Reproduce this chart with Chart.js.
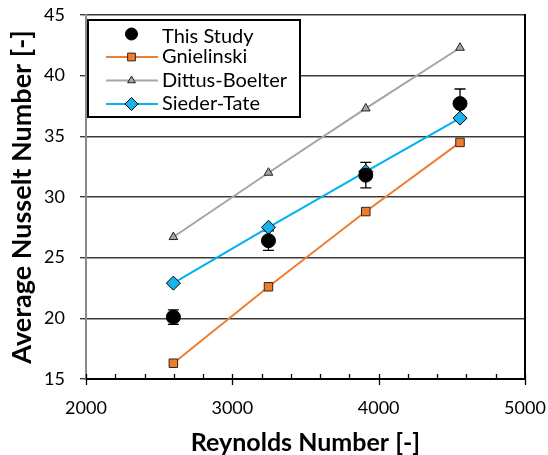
<!DOCTYPE html>
<html>
<head>
<meta charset="utf-8">
<script src="https://cdn.jsdelivr.net/npm/chart.js@4/dist/chart.umd.min.js"></script>
<style>
  html, body { margin: 0; padding: 0; background: #fff; }
  canvas { display: block; }
</style>
</head>
<body>
<canvas id="nusselt" width="548" height="455"></canvas>
<script>
// Reynolds numbers of the four test conditions
const reynolds = [2597, 3247, 3912, 4556];

// Measured average Nusselt number and its uncertainty
const thisStudy = [20.1, 26.4, 31.8, 37.7];
const thisStudyErr = [0.6, 0.8, 1.05, 1.2];

// Correlation predictions
const gnielinski = [16.3, 22.6, 28.8, 34.5];
const dittusBoelter = [26.7, 32.0, 37.3, 42.3];
const siederTate = [22.9, 27.5, 32.1, 36.5];

const seriesNames = ['This Study', 'Gnielinski', 'Dittus-Boelter', 'Sieder-Tate'];

// Axis ranges and tick spacing
const xRange = [2000, 5000];
const xMajorStep = 1000;
const xMinorStep = 200;
const yRange = [15, 45];
const yMajorStep = 5;

const FONT = 'Lato, "Open Sans", sans-serif';

const toPoints = vals => reynolds.map((x, i) => ({ x, y: vals[i] }));

// Keep the plot area fixed: no extra room for overhanging tick labels
function fixScale(scale, size) {
  if (scale.isHorizontal()) scale.height = size; else scale.width = size;
  scale.paddingTop = scale.paddingBottom = scale.paddingLeft = scale.paddingRight = 0;
}

// Vertical error bars for the measured series (drawn beneath all markers)
const errorBars = {
  id: 'errorBars',
  beforeDatasetsDraw(chart) {
    const { ctx, scales: { x, y } } = chart;
    ctx.save();
    ctx.strokeStyle = '#000';
    ctx.lineWidth = 1.3;
    reynolds.forEach((re, i) => {
      const px = x.getPixelForValue(re);
      const top = y.getPixelForValue(thisStudy[i] + thisStudyErr[i]);
      const bot = y.getPixelForValue(thisStudy[i] - thisStudyErr[i]);
      ctx.beginPath();
      ctx.moveTo(px, top); ctx.lineTo(px, bot);
      ctx.moveTo(px - 5.5, top); ctx.lineTo(px + 5.5, top);
      ctx.moveTo(px - 5.5, bot); ctx.lineTo(px + 5.5, bot);
      ctx.stroke();
    });
    ctx.restore();
  }
};

// Plot frame: right edge and x-axis major/minor tick marks
const frame = {
  id: 'frame',
  beforeDatasetsDraw(chart) {
    const { ctx, chartArea: a, scales: { x } } = chart;
    ctx.save();
    ctx.strokeStyle = '#000';
    ctx.lineWidth = 2;
    ctx.beginPath();
    ctx.moveTo(a.right, a.top - 1);
    ctx.lineTo(a.right, a.bottom + 1);
    ctx.stroke();
    ctx.lineWidth = 1.3;
    ctx.beginPath();
    for (let v = xRange[0]; v <= xRange[1]; v += xMinorStep) {
      const px = Math.round(x.getPixelForValue(v)) + 0.5;
      if (v % xMajorStep === 0) {
        ctx.moveTo(px, a.bottom - 5); ctx.lineTo(px, a.bottom + 6);
      } else {
        ctx.moveTo(px, a.bottom - 5); ctx.lineTo(px, a.bottom);
      }
    }
    ctx.stroke();
    ctx.restore();
  }
};

// Boxed legend inside the plot area
const legendLayout = { left: 88, top: 20, right: 300, bottom: 117, lineX0: 106, lineX1: 158, markX: 131.5, textX: 162 };
const legendRowY = [34, 57, 80.5, 104];
const boxedLegend = {
  id: 'boxedLegend',
  afterDraw(chart) {
    const { ctx } = chart;
    const L = legendLayout;
    ctx.save();
    ctx.fillStyle = '#fff';
    ctx.fillRect(L.left, L.top, L.right - L.left, L.bottom - L.top);
    ctx.strokeStyle = '#000';
    ctx.lineWidth = 2;
    ctx.strokeRect(L.left, L.top, L.right - L.left, L.bottom - L.top);
    chart.data.datasets.forEach((ds, i) => {
      const yRow = legendRowY[i];
      if (ds.showLine !== false) {
        ctx.strokeStyle = ds.borderColor;
        ctx.lineWidth = ds.borderWidth;
        ctx.beginPath();
        ctx.moveTo(L.lineX0, yRow); ctx.lineTo(L.lineX1, yRow);
        ctx.stroke();
      }
      ctx.fillStyle = ds.pointBackgroundColor;
      ctx.strokeStyle = ds.pointBorderColor;
      ctx.lineWidth = ds.pointBorderWidth;
      Chart.helpers.drawPoint(ctx, {
        pointStyle: ds.pointStyle, radius: ds.legendRadius, rotation: 0, borderWidth: ds.pointBorderWidth
      }, L.markX, yRow);
      ctx.fillStyle = '#000';
      ctx.font = '20px ' + FONT;
      ctx.textBaseline = 'middle';
      ctx.textAlign = 'left';
      ctx.fillText(ds.label, L.textX, i === 0 ? yRow + 3 : yRow);
    });
    ctx.restore();
  }
};

function draw() {
  new Chart(document.getElementById('nusselt'), {
    type: 'scatter',
    data: {
      datasets: [
        {
          label: seriesNames[0], data: toPoints(thisStudy), showLine: false,
          pointStyle: 'circle', pointRadius: 7, legendRadius: 6,
          pointBackgroundColor: '#000', pointBorderColor: '#000', pointBorderWidth: 1
        },
        {
          label: seriesNames[1], data: toPoints(gnielinski), showLine: true,
          borderColor: '#ED7D31', borderWidth: 2,
          pointStyle: 'rect', pointRadius: 6, legendRadius: 5.5,
          pointBackgroundColor: '#ED7D31', pointBorderColor: '#3a2210', pointBorderWidth: 1
        },
        {
          label: seriesNames[2], data: toPoints(dittusBoelter), showLine: true,
          borderColor: '#A5A5A5', borderWidth: 2,
          pointStyle: 'triangle', pointRadius: 5, legendRadius: 4.5,
          pointBackgroundColor: '#A5A5A5', pointBorderColor: '#222', pointBorderWidth: 1
        },
        {
          label: seriesNames[3], data: toPoints(siederTate), showLine: true,
          borderColor: '#00B0F0', borderWidth: 2,
          pointStyle: 'rectRot', pointRadius: 7, legendRadius: 6.5,
          pointBackgroundColor: '#1AB2EA', pointBorderColor: '#000', pointBorderWidth: 1
        }
      ]
    },
    options: {
      responsive: false,
      animation: false,
      layout: { padding: { left: 0, top: 15, right: 23, bottom: 0 } },
      plugins: { legend: { display: false }, tooltip: { enabled: false } },
      elements: { line: { tension: 0 } },
      scales: {
        x: {
          type: 'linear', min: xRange[0], max: xRange[1],
          afterFit: s => fixScale(s, 76),
          ticks: {
            stepSize: xMajorStep, color: '#000', font: { family: FONT, size: 18 }, padding: 18, maxRotation: 0,
            callback: v => String(v)
          },
          grid: { display: false, drawTicks: false },
          border: { display: true, color: '#000', width: 2 },
          title: {
            display: true, text: 'Reynolds Number [-]', color: '#000',
            font: { family: FONT, size: 25, weight: 'bold', lineHeight: 1 }, padding: { top: 0, bottom: 0 }
          }
        },
        y: {
          type: 'linear', min: yRange[0], max: yRange[1],
          afterFit: s => fixScale(s, 86),
          ticks: { stepSize: yMajorStep, color: '#000', font: { family: FONT, size: 18 }, padding: 15 },
          grid: { color: '#3a3a3a', lineWidth: 1.4, tickLength: 6, drawTicks: true, tickColor: '#3a3a3a' },
          border: { display: true, color: '#8a8a8a', width: 2 },
          title: {
            display: true, text: 'Average Nusselt Number [-]', color: '#000',
            font: { family: FONT, size: 27, weight: 'bold', lineHeight: 1 }, padding: { top: 9, bottom: 0 }
          }
        }
      }
    },
    plugins: [frame, errorBars, boxedLegend]
  });
}

if (document.fonts && document.fonts.load) {
  Promise.all([
    document.fonts.load('18px Lato'),
    document.fonts.load('bold 25px Lato')
  ]).then(draw, draw);
} else {
  draw();
}
</script>
</body>
</html>
